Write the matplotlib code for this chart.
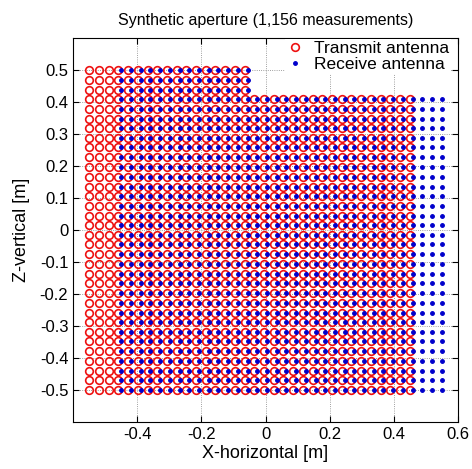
import numpy as np
import matplotlib
matplotlib.use("Agg")
import matplotlib.pyplot as plt

plt.rcParams['font.family'] = ['Liberation Sans', 'DejaVu Sans']

# grid rows (Z, vertical) and transmit columns (X, horizontal) in metres
z_rows = [-0.500, -0.470, -0.439, -0.409, -0.379, -0.348, -0.318, -0.288, -0.258,
          -0.227, -0.197, -0.167, -0.136, -0.106, -0.076, -0.045, -0.015, 0.015,
          0.045, 0.076, 0.106, 0.136, 0.167, 0.197, 0.227, 0.258, 0.288, 0.318,
          0.348, 0.379, 0.409, 0.439, 0.470, 0.500]
tx_cols = [-0.550, -0.520, -0.489, -0.459, -0.429, -0.398, -0.368, -0.338, -0.308,
           -0.277, -0.247, -0.217, -0.186, -0.156, -0.126, -0.095, -0.065, -0.035,
           -0.005, 0.026, 0.056, 0.086, 0.117, 0.147, 0.177, 0.208, 0.238, 0.268,
           0.298, 0.329, 0.359, 0.389, 0.420, 0.450]
rx_offset = 0.1          # receive antenna sits 0.1 m right of transmit
x_cut = -0.05            # columns right of this stop at z_top_right
z_top_right = 0.41


def aperture(cols):
    xs, zs = [], []
    for x in cols:
        for z in z_rows:
            if x > x_cut and z > z_top_right:
                continue
            xs.append(x)
            zs.append(z)
    return np.array(xs), np.array(zs)


tx_x, tx_z = aperture(tx_cols)
rx_x, rx_z = aperture([c + rx_offset for c in tx_cols])

fig = plt.figure(figsize=(4.72, 4.69), dpi=100)
ax = fig.add_axes([0.155, 0.100, 0.815, 0.819])

ax.plot(tx_x, tx_z, 'o', color='#ee1111', mfc='none', ms=5.5, mew=1.2, label='Transmit antenna')
ax.plot(rx_x, rx_z, '.', color='#0000cc', ms=5, label='Receive antenna')

ax.set_xlim(-0.6, 0.6)
ax.set_ylim(-0.6, 0.6)
ax.set_xticks([-0.4, -0.2, 0, 0.2, 0.4, 0.6])
ax.set_xticklabels(['-0.4', '-0.2', '0', '0.2', '0.4', '0.6'])
ax.set_yticks([-0.5, -0.4, -0.3, -0.2, -0.1, 0, 0.1, 0.2, 0.3, 0.4, 0.5])
ax.set_yticklabels(['-0.5', '-0.4', '-0.3', '-0.2', '-0.1', '0', '0.1', '0.2',
                    '0.3', '0.4', '0.5'])
ax.tick_params(direction='in', top=True, right=True, length=4, labelsize=12)
ax.grid(True, linestyle=':', color='#808080', linewidth=0.6)
ax.set_axisbelow(True)

ax.set_title('Synthetic aperture (1,156 measurements)', fontsize=11.5, pad=9)
ax.set_xlabel('X-horizontal [m]', fontsize=13, labelpad=2)
ax.set_ylabel('Z-vertical [m]', fontsize=13, labelpad=7)

leg = ax.legend(loc='upper right', bbox_to_anchor=(0.985, 1.0), fontsize=12.5,
                frameon=True, fancybox=False, borderaxespad=0.05, borderpad=0.1,
                handlelength=1.0, handletextpad=0.6, labelspacing=0.05)
leg.get_frame().set_edgecolor('none')
leg.get_frame().set_facecolor('white')
leg.get_frame().set_alpha(1)

fig.savefig('out.png', dpi=100)
